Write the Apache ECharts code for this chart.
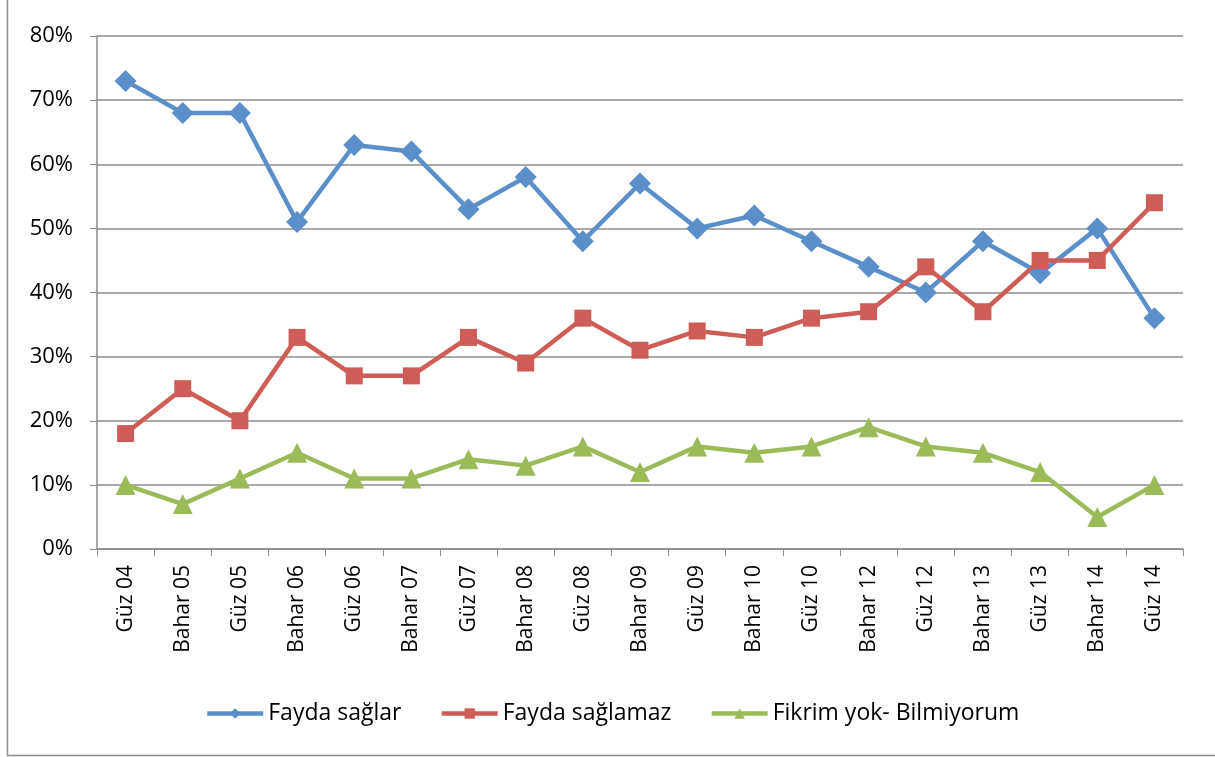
<!DOCTYPE html>
<html>
<head>
<meta charset="utf-8">
<script src="https://cdn.jsdelivr.net/npm/echarts@6/dist/echarts.min.js"></script>
<style>
  html, body { margin: 0; padding: 0; background: #fff; }
  #chart { width: 1215px; height: 757px; }
</style>
</head>
<body>
<div id="chart"></div>
<script>
'use strict';

const donemler = ["Güz 04", "Bahar 05", "Güz 05", "Bahar 06", "Güz 06", "Bahar 07", "Güz 07",
  "Bahar 08", "Güz 08", "Bahar 09", "Güz 09", "Bahar 10", "Güz 10", "Bahar 12", "Güz 12",
  "Bahar 13", "Güz 13", "Bahar 14", "Güz 14"];
const faydaSaglar = [73, 68, 68, 51, 63, 62, 53, 58, 48, 57, 50, 52, 48, 44, 40, 48, 43, 50, 36];
const faydaSaglamaz = [18, 25, 20, 33, 27, 27, 33, 29, 36, 31, 34, 33, 36, 37, 44, 37, 45, 45, 54];
const fikrimYok = [10, 7, 11, 15, 11, 11, 14, 13, 16, 12, 16, 15, 16, 19, 16, 15, 12, 5, 10];

const font = "'Open Sans', 'Noto Sans', sans-serif";

function seri(name, data, color, symbol, size) {
  return {
    name: name,
    type: 'line',
    data: data,
    symbol: symbol,
    symbolSize: size,
    lineStyle: { width: 4.5, color: color },
    itemStyle: { color: color },
    emphasis: { disabled: true },
    animation: false
  };
}

const chart = echarts.init(document.getElementById('chart'));
chart.setOption({
  backgroundColor: '#fff',
  graphic: [{
    type: 'rect',
    shape: { x: 7.5, y: -2, width: 1220, height: 757.5 },
    style: { fill: 'none', stroke: '#8c8c8c', lineWidth: 1.5 },
    silent: true
  }],
  grid: { left: 97, right: 32, top: 36, bottom: 208 },
  legend: {
    top: 697,
    left: 200,
    itemWidth: 56,
    itemHeight: 13,
    itemGap: 38,
    lineStyle: { width: 4.5 },
    textStyle: { fontFamily: font, fontSize: 23, color: '#000' },
    data: ['Fayda sağlar', 'Fayda sağlamaz', 'Fikrim yok- Bilmiyorum']
  },
  xAxis: {
    type: 'category',
    data: donemler,
    boundaryGap: true,
    axisLine: { lineStyle: { color: '#8c8c8c', width: 1.5 } },
    axisTick: { show: true, length: 7, alignWithLabel: false, lineStyle: { color: '#8c8c8c' } },
    axisLabel: { rotate: 90, fontFamily: font, fontSize: 21, color: '#000', margin: 16, interval: 0 }
  },
  yAxis: {
    type: 'value',
    min: 0,
    max: 80,
    interval: 10,
    axisLine: { show: true, lineStyle: { color: '#8c8c8c', width: 1.5 } },
    axisTick: { show: true, length: 7, lineStyle: { color: '#8c8c8c' } },
    splitLine: { lineStyle: { color: '#8c8c8c', width: 1.5 } },
    axisLabel: { formatter: '{value}%', fontFamily: font, fontSize: 22, color: '#000', margin: 24 }
  },
  series: [
    seri('Fayda sağlar', faydaSaglar, '#5a8fc9', 'diamond', 22),
    seri('Fayda sağlamaz', faydaSaglamaz, '#cd5d56', 'rect', 17),
    seri('Fikrim yok- Bilmiyorum', fikrimYok, '#9bbb59', 'triangle', 20)
  ]
});
</script>
</body>
</html>
